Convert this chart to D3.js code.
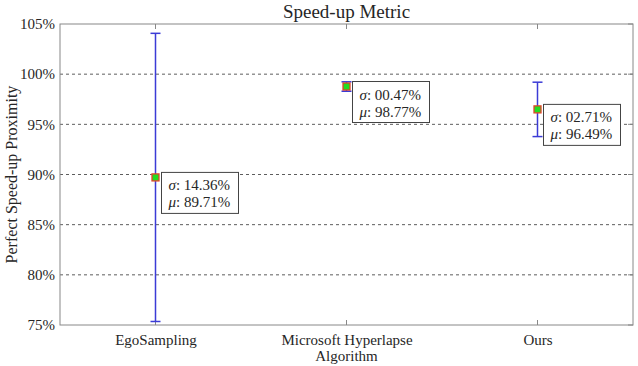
<!DOCTYPE html>
<html>
<head>
<meta charset="utf-8">
<script src="https://cdn.jsdelivr.net/npm/d3@7"></script>
<style>
  body { margin: 0; background: #fff; }
  svg text { font-family: "Liberation Serif", "Times New Roman", serif !important; fill: #262626; }
</style>
</head>
<body>
<div id="chart"></div>
<script>
// data
var algorithms = ["EgoSampling", "Microsoft Hyperlapse", "Ours"];
var means = [89.71, 98.77, 96.49];
var sigmas = [14.36, 0.47, 2.71];
var yTicks = [75, 80, 85, 90, 95, 100, 105];

var svgWidth = 638, svgHeight = 366;
var margin = { top: 24, right: 5, bottom: 41, left: 60 };
var width = svgWidth - margin.left - margin.right;
var height = svgHeight - margin.top - margin.bottom;

var svg = d3.select("#chart").append("svg")
  .attr("width", svgWidth)
  .attr("height", svgHeight)
  .attr("font-family", "'Liberation Serif', serif");

var chartGroup = svg.append("g")
  .attr("transform", `translate(${margin.left}, ${margin.top})`);

// x is category index, padded by half a step like MATLAB's xlim [0.5, 3.5]
var xScale = d3.scaleLinear().domain([0.5, algorithms.length + 0.5]).range([0, width]);
var yScale = d3.scaleLinear().domain([75, 105]).range([height, 0]);

// dashed grid
chartGroup.selectAll(".grid")
  .data(yTicks.filter(t => t > 75 && t < 105))
  .enter().append("line")
  .attr("x1", 0).attr("x2", width)
  .attr("y1", d => yScale(d)).attr("y2", d => yScale(d))
  .attr("stroke", "#333")
  .attr("stroke-width", 0.8)
  .attr("stroke-dasharray", "3,3");

// axes
var leftAxis = d3.axisLeft(yScale).tickValues(yTicks).tickSize(0).tickPadding(5)
  .tickFormat(d => d + "%");
var bottomAxis = d3.axisBottom(xScale).tickValues(d3.range(1, algorithms.length + 1))
  .tickSize(0).tickPadding(9).tickFormat((d, i) => algorithms[i]);

var yAxisG = chartGroup.append("g").call(leftAxis);
var xAxisG = chartGroup.append("g").attr("transform", `translate(0, ${height})`).call(bottomAxis);
[yAxisG, xAxisG].forEach(function(g) {
  g.attr("font-family", null).attr("font-size", 15);
  g.select(".domain").remove();
});

// box frame
chartGroup.append("rect")
  .attr("width", width).attr("height", height)
  .attr("fill", "none").attr("stroke", "#888").attr("stroke-width", 1);

// inner ticks on top and bottom
d3.range(1, algorithms.length + 1).forEach(function(i) {
  chartGroup.append("line")
    .attr("x1", xScale(i)).attr("x2", xScale(i))
    .attr("y1", height).attr("y2", height - 5)
    .attr("stroke", "#888");
  chartGroup.append("line")
    .attr("x1", xScale(i)).attr("x2", xScale(i))
    .attr("y1", 0).attr("y2", 5)
    .attr("stroke", "#888");
});
yTicks.forEach(function(t) {
  chartGroup.append("line").attr("x1", width).attr("x2", width - 5)
    .attr("y1", yScale(t)).attr("y2", yScale(t)).attr("stroke", "#888");
});

// error bars
var blue = "#3b3bd6";
var bars = chartGroup.selectAll(".err")
  .data(means).enter().append("g");

bars.append("line")
  .attr("x1", (d, i) => xScale(i + 1)).attr("x2", (d, i) => xScale(i + 1))
  .attr("y1", (d, i) => yScale(d + sigmas[i])).attr("y2", (d, i) => yScale(d - sigmas[i]))
  .attr("stroke", blue).attr("stroke-width", 1.5);

[1, -1].forEach(function(s) {
  bars.append("line")
    .attr("x1", (d, i) => xScale(i + 1) - 5).attr("x2", (d, i) => xScale(i + 1) + 5)
    .attr("y1", (d, i) => yScale(d + s * sigmas[i])).attr("y2", (d, i) => yScale(d + s * sigmas[i]))
    .attr("stroke", blue).attr("stroke-width", 1.5);
});

// mean markers
bars.append("rect")
  .attr("x", (d, i) => xScale(i + 1) - 3.5)
  .attr("y", d => yScale(d) - 3.5)
  .attr("width", 7).attr("height", 7)
  .attr("fill", "#22dd22")
  .attr("stroke", "#e0442a").attr("stroke-width", 1.3);

// annotation boxes
var boxes = bars.append("g")
  .attr("transform", (d, i) => `translate(${xScale(i + 1) + 6}, ${yScale(d) - 5})`);

boxes.append("rect")
  .attr("width", 77).attr("height", 41)
  .attr("fill", "#fff").attr("stroke", "#444").attr("stroke-width", 1);

var l1 = boxes.append("text").attr("x", 7).attr("y", 18).attr("font-size", 15);
l1.append("tspan").attr("font-style", "italic").text("σ");
l1.append("tspan").text((d, i) => ": " + d3.format("05.2f")(sigmas[i]) + "%");

var l2 = boxes.append("text").attr("x", 7).attr("y", 35).attr("font-size", 15);
l2.append("tspan").attr("font-style", "italic").text("μ");
l2.append("tspan").text(d => ": " + d.toFixed(2) + "%");

// titles
svg.append("text")
  .attr("x", margin.left + width / 2).attr("y", 18)
  .attr("text-anchor", "middle")
  .attr("font-size", 19)
  .text("Speed-up Metric");

svg.append("text")
  .attr("x", margin.left + width / 2).attr("y", 361)
  .attr("text-anchor", "middle")
  .attr("font-size", 15)
  .text("Algorithm");

svg.append("text")
  .attr("transform", "rotate(-90)")
  .attr("x", -(margin.top + height / 2)).attr("y", 17)
  .attr("text-anchor", "middle")
  .attr("font-size", 16)
  .text("Perfect Speed-up Proximity");
</script>
</body>
</html>
